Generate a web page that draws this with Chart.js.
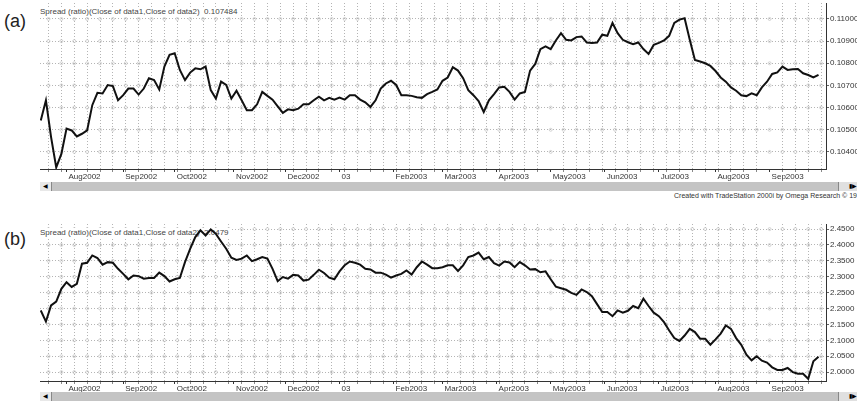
<!DOCTYPE html>
<html>
<head>
<meta charset="utf-8">
<script src="https://cdn.jsdelivr.net/npm/chart.js@4.4.1/dist/chart.umd.min.js"></script>
<style>
  body { margin: 0; width: 857px; height: 402px; overflow: hidden; position: relative; background: #fff;
         font-family: 'Liberation Sans', Arial, sans-serif; }
  canvas { position: absolute; left: 0; z-index: 1; }
  #chartA { top: -12px; }
  #chartB { top: 208px; }
  .tag { position: absolute; left: 4px; font-size: 18px; color: #222; line-height: 20px; }
  .title { position: absolute; left: 40px; font-size: 8px; line-height: 10px; color: #444; background: #fff;
           padding-right: 3px; white-space: nowrap; z-index: 0; }
  .scroll { position: absolute; left: 40px; width: 817px; height: 9px; background: #c4c4c4; z-index: 2; }
  .scroll .btn { position: absolute; left: 0; top: 0; width: 11px; height: 9px; background: #e8e8e8;
                 border-right: 1px solid #888; font-size: 6px; line-height: 9px; text-align: center; color: #000; }
  .scroll .end { position: absolute; right: 0; top: 0; width: 18px; height: 9px; background: #e0e0e0;
                 border-left: 1px solid #888; font-size: 6px; line-height: 9px; text-align: right; color: #000; }
  .credit { position: absolute; left: 674px; top: 192px; font-size: 7px; color: #333; white-space: nowrap; z-index: 2; }
</style>
</head>
<body>
<canvas id="chartA" width="857" height="194"></canvas>
<canvas id="chartB" width="857" height="186"></canvas>

<div class="tag" style="top:11px">(a)</div>
<div class="title" id="titleA" style="top:7px">Spread (ratio)(Close of data1,Close of data2)&nbsp; 0.107484</div>
<div class="scroll" style="top:182px"><div class="btn">&#9664;</div><div class="end">&#9646;&#9654;</div></div>
<div class="credit">Created with TradeStation 2000i by Omega Research © 1999</div>

<div class="tag" style="top:229px">(b)</div>
<div class="title" id="titleB" style="top:228px">Spread (ratio)(Close of data1,Close of data2)&nbsp; 2.0479</div>
<div class="scroll" style="top:392px"><div class="btn">&#9664;</div><div class="end">&#9646;&#9654;</div></div>

<script>
/* two stacked spread charts, TradeStation style */

// month axis labels and the bar (trading day) where each month starts
const monthLabels = ['Aug2002', 'Sep2002', 'Oct2002', 'Nov2002', 'Dec2002', '03', 'Feb2003',
  'Mar2003', 'Apr2003', 'May2003', 'Jun2003', 'Jul2003', 'Aug2003', 'Sep2003'];
const monthStartBar = [10, 32, 52, 75, 95, 116, 137, 156, 177, 198, 219, 240, 262, 283];

// one value every 2nd bar, bar 0 .. 302
const SAMPLE_STEP = 2;

const spreadA = [
  0.10542, 0.10633, 0.10467, 0.10330, 0.10391, 0.10505, 0.10497, 0.10470, 0.10482, 0.10497,
  0.10611, 0.10667, 0.10664, 0.10702, 0.10697, 0.10633, 0.10656, 0.10686, 0.10686, 0.10659,
  0.10686, 0.10732, 0.10724, 0.10682, 0.10785, 0.10838, 0.10845, 0.10770, 0.10724, 0.10758,
  0.10777, 0.10773, 0.10785, 0.10679, 0.10641, 0.10717, 0.10702, 0.10641, 0.10676, 0.10633,
  0.10588, 0.10588, 0.10615, 0.10671, 0.10653, 0.10636, 0.10606, 0.10576, 0.10592, 0.10588,
  0.10595, 0.10615, 0.10615, 0.10633, 0.10649, 0.10633, 0.10644, 0.10636, 0.10645, 0.10636,
  0.10656, 0.10656, 0.10636, 0.10624, 0.10603, 0.10633, 0.10686, 0.10709, 0.10721, 0.10702,
  0.10656, 0.10656, 0.10653, 0.10647, 0.10644, 0.10661, 0.10671, 0.10682, 0.10721, 0.10736,
  0.10782, 0.10767, 0.10733, 0.10679, 0.10656, 0.10630, 0.10580, 0.10633, 0.10661, 0.10691,
  0.10694, 0.10671, 0.10636, 0.10664, 0.10671, 0.10767, 0.10797, 0.10864, 0.10876, 0.10864,
  0.10903, 0.10936, 0.10906, 0.10903, 0.10918, 0.10921, 0.10894, 0.10891, 0.10894, 0.10929,
  0.10924, 0.10982, 0.10936, 0.10906, 0.10895, 0.10886, 0.10894, 0.10864, 0.10842, 0.10883,
  0.10892, 0.10903, 0.10924, 0.10982, 0.10997, 0.11003, 0.10906, 0.10815, 0.10808, 0.10800,
  0.10788, 0.10765, 0.10736, 0.10717, 0.10691, 0.10676, 0.10656, 0.10652, 0.10664, 0.10656,
  0.10691, 0.10717, 0.10752, 0.10759, 0.10785, 0.10770, 0.10773, 0.10774, 0.10755, 0.10747,
  0.10736, 0.10748
];

const spreadB = [
  2.194, 2.159, 2.210, 2.222, 2.262, 2.283, 2.268, 2.278, 2.341, 2.344,
  2.367, 2.359, 2.338, 2.346, 2.344, 2.325, 2.309, 2.292, 2.304, 2.302,
  2.294, 2.296, 2.296, 2.313, 2.302, 2.285, 2.292, 2.296, 2.346, 2.388,
  2.425, 2.446, 2.430, 2.449, 2.435, 2.411, 2.388, 2.360, 2.353, 2.357,
  2.367, 2.349, 2.355, 2.362, 2.357, 2.325, 2.286, 2.299, 2.294, 2.306,
  2.304, 2.288, 2.291, 2.306, 2.322, 2.312, 2.297, 2.292, 2.317, 2.336,
  2.348, 2.344, 2.338, 2.325, 2.323, 2.313, 2.313, 2.307, 2.297, 2.304,
  2.309, 2.320, 2.307, 2.330, 2.348, 2.338, 2.327, 2.327, 2.330, 2.336,
  2.336, 2.318, 2.336, 2.362, 2.367, 2.376, 2.355, 2.362, 2.343, 2.335,
  2.348, 2.345, 2.330, 2.346, 2.336, 2.323, 2.324, 2.314, 2.317, 2.292,
  2.269, 2.264, 2.259, 2.249, 2.243, 2.260, 2.252, 2.239, 2.214, 2.189,
  2.189, 2.176, 2.194, 2.187, 2.193, 2.208, 2.201, 2.231, 2.208, 2.187,
  2.176, 2.157, 2.131, 2.107, 2.098, 2.115, 2.136, 2.126, 2.105, 2.105,
  2.086, 2.103, 2.121, 2.147, 2.136, 2.107, 2.086, 2.055, 2.037, 2.050,
  2.036, 2.030, 2.015, 2.007, 2.007, 2.013, 2.000, 1.995, 1.995, 1.979,
  2.034, 2.048
];

const yTicksA = [0.104, 0.105, 0.106, 0.107, 0.108, 0.109, 0.110];
const yTicksB = [2.00, 2.05, 2.10, 2.15, 2.20, 2.25, 2.30, 2.35, 2.40, 2.45];

const GRID = '#b4b4b4';
const AXIS = '#333';
Chart.defaults.font.family = "'Liberation Sans', Arial, sans-serif";
Chart.defaults.font.size = 8;
Chart.defaults.color = '#333';

// weekly vertical grid lines (every 5 bars)
const weekBars = [];
for (let b = 3; b <= 303; b += 5) weekBars.push(b);

// little rings where the dotted grid lines cross, then punch a hole
// in the grid for the html title (the price line still goes over it)
const backdropPlugin = {
  id: 'backdrop',
  beforeDatasetsDraw(chart, args, opts) {
    const { ctx, scales: { x, y } } = chart;
    ctx.save();
    ctx.strokeStyle = '#c8c8c8';
    ctx.lineWidth = 0.8;
    y.ticks.forEach(t => {
      const py = y.getPixelForValue(t.value);
      weekBars.forEach(b => {
        ctx.beginPath();
        ctx.arc(x.getPixelForValue(b), py, 1.5, 0, Math.PI * 2);
        ctx.stroke();
      });
    });
    const el = document.getElementById(opts.titleId);
    if (el) {
      const r = el.getBoundingClientRect();
      const c = chart.canvas.getBoundingClientRect();
      ctx.clearRect(r.left - c.left, r.top - c.top, r.width, r.height);
    }
    ctx.restore();
  }
};

function makeChart(canvasId, titleId, values, yMin, yMax, yTicks, decimals, padTop) {
  const points = values.map((v, i) => ({ x: i * SAMPLE_STEP, y: v }));
  return new Chart(document.getElementById(canvasId), {
    type: 'line',
    data: {
      datasets: [{
        data: points,
        borderColor: '#111',
        borderWidth: 2,
        pointRadius: 0,
        tension: 0,
        fill: false
      }]
    },
    plugins: [backdropPlugin],
    options: {
      responsive: false,
      animation: false,
      events: [],
      layout: { padding: { left: 40, top: padTop, right: 0, bottom: 0 } },
      plugins: {
        legend: { display: false },
        tooltip: { enabled: false },
        backdrop: { titleId }
      },
      scales: {
        x: {
          type: 'linear',
          min: -0.3,
          max: 304.9,
          afterFit: s => { s.height = 13; },
          afterBuildTicks: s => {
            const vals = Array.from(new Set([...weekBars, ...monthStartBar])).sort((a, b) => a - b);
            s.ticks = vals.map(v => ({ value: v }));
          },
          ticks: {
            autoSkip: false,
            maxRotation: 0,
            align: 'start',
            padding: 0,
            labelOffset: 2,
            color: '#333',
            callback: v => {
              const i = monthStartBar.indexOf(v);
              return i >= 0 ? monthLabels[i] : '';
            }
          },
          grid: {
            color: c => (c.tick && monthStartBar.includes(c.tick.value)) ? 'rgba(0,0,0,0)' : GRID,
            tickColor: c => (c.tick && monthStartBar.includes(c.tick.value)) ? AXIS : '#888',
            tickLength: 3,
            lineWidth: 1
          },
          border: { display: true, color: AXIS, width: 1, dash: [1, 2] }
        },
        y: {
          position: 'right',
          min: yMin,
          max: yMax,
          afterFit: s => { s.width = 31; },
          afterBuildTicks: s => { s.ticks = yTicks.map(v => ({ value: v })); },
          ticks: {
            padding: 1,
            color: '#333',
            callback: v => Number(v).toFixed(decimals)
          },
          grid: { color: GRID, tickColor: '#666', tickLength: 3, lineWidth: 1 },
          border: { display: true, color: AXIS, width: 1, dash: [1, 2] }
        }
      }
    }
  });
}

makeChart('chartA', 'titleA', spreadA, 0.10323, 0.11072, yTicksA, 5, 15);
makeChart('chartB', 'titleB', spreadB, 1.972, 2.466, yTicksB, 4, 16);
</script>
</body>
</html>
